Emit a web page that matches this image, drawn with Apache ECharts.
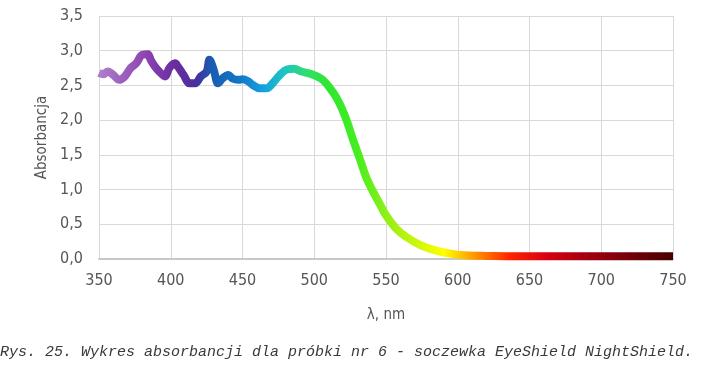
<!DOCTYPE html>
<html>
<head>
<meta charset="utf-8">
<script src="https://cdn.jsdelivr.net/npm/echarts@6/dist/echarts.min.js"></script>
<style>
html,body{margin:0;padding:0;background:#fff;}
#chart{width:704px;height:371px;}
</style>
</head>
<body>
<div id="chart"></div>
<script>
var wavelengths = [350,353,356,360,364,368,372,376,380,384,386,389,392,396,399,403,405,409,413,417,421,425,427,430,433,436,440,443,447,450,454,457,462,467,471,476,481,486,491,497,502,506,511,515,519,523,527,532,536,541,546,550,557,564,574,585,597,608,620,640,660,680,700,720,750];
var absorbance = [2.68,2.66,2.70,2.65,2.58,2.63,2.75,2.82,2.94,2.95,2.87,2.77,2.70,2.63,2.75,2.82,2.77,2.65,2.53,2.53,2.63,2.70,2.87,2.72,2.53,2.60,2.65,2.60,2.58,2.59,2.56,2.51,2.46,2.46,2.53,2.65,2.73,2.74,2.70,2.67,2.63,2.58,2.46,2.34,2.18,1.97,1.72,1.43,1.19,0.97,0.78,0.63,0.44,0.32,0.20,0.12,0.07,0.05,0.045,0.04,0.04,0.04,0.04,0.04,0.04];
var xTicks = [350,400,450,500,550,600,650,700,750];
var yTicks = [0,0.5,1,1.5,2,2.5,3,3.5];
var xName = 'λ, nm';
var yName = 'Absorbancja';
var caption = 'Rys. 25. Wykres absorbancji dla próbki nr 6 - soczewka EyeShield NightShield.';

var chart = echarts.init(document.getElementById('chart'), null, {renderer:'canvas'});
var tickFont = '"Liberation Sans Narrow","DejaVu Sans Condensed",sans-serif';
var data = wavelengths.map(function(w,i){return [w, absorbance[i]];});
var grad = new echarts.graphic.LinearGradient(0,0,1,0,[
  {offset:0, color:'#b084cc'},
  {offset:0.0875, color:'#8c44b2'},
  {offset:0.1375, color:'#6a2c9e'},
  {offset:0.175, color:'#48309e'},
  {offset:0.2, color:'#1a5cb2'},
  {offset:0.25, color:'#1278c6'},
  {offset:0.2875, color:'#14a0e0'},
  {offset:0.325, color:'#1ec4c4'},
  {offset:0.3625, color:'#2ede70'},
  {offset:0.4, color:'#30e632'},
  {offset:0.45, color:'#44ee20'},
  {offset:0.5125, color:'#a0f014'},
  {offset:0.6, color:'#ffff00'},
  {offset:0.65, color:'#ff9a00'},
  {offset:0.7125, color:'#ff2400'},
  {offset:0.775, color:'#d80010'},
  {offset:0.85, color:'#a00010'},
  {offset:0.925, color:'#700008'},
  {offset:1, color:'#420000'}
]);
chart.setOption({
  animation:false,
  backgroundColor:'#ffffff',
  title:{
    text: caption, left:0, top:345, padding:0,
    textStyle:{fontFamily:'"Liberation Mono",monospace', fontStyle:'italic', fontWeight:'normal', fontSize:15, color:'#3a3a3a'}
  },
  grid:{left:99, right:31, top:16, bottom:112, containLabel:false},
  xAxis:{
    type:'value', min:350, max:750, interval:50,
    name:xName, nameLocation:'middle', nameGap:49,
    nameTextStyle:{fontFamily:tickFont, fontSize:15, color:'#555'},
    axisLine:{show:true, lineStyle:{color:'#c8c8c8', width:2}},
    axisTick:{show:false},
    axisLabel:{margin:14, fontFamily:tickFont, fontSize:16, color:'#555',
      formatter:function(v){return xTicks.indexOf(v)>=0 ? String(v) : '';}},
    splitLine:{show:true, lineStyle:{color:'#d9d9d9', width:1}}
  },
  yAxis:{
    type:'value', min:0, max:3.5, interval:0.5,
    name:yName, nameLocation:'middle', nameGap:46, nameRotate:90,
    nameTextStyle:{fontFamily:tickFont, fontSize:15, color:'#555'},
    axisLine:{show:false}, axisTick:{show:false},
    axisLabel:{margin:16, fontFamily:tickFont, fontSize:16, color:'#555',
      formatter:function(v){return yTicks.indexOf(v)>=0 ? v.toFixed(1).replace('.', ',') : '';}},
    splitLine:{show:true, lineStyle:{color:'#d9d9d9', width:1}}
  },
  series:[{
    type:'line', data:data, smooth:0.35, showSymbol:false,
    lineStyle:{width:8, color:grad, cap:'butt', join:'round'}
  }]
});
</script>
</body>
</html>
